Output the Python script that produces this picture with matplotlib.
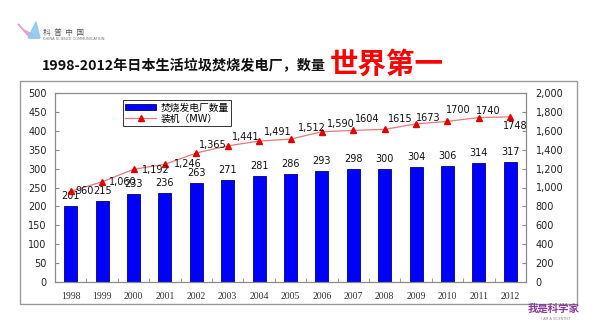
import matplotlib.pyplot as plt
from matplotlib.patches import Rectangle, Polygon
from matplotlib.lines import Line2D

plt.rcParams['font.family'] = ['DejaVu Sans', 'Noto Sans CJK SC']

years = ['1998', '1999', '2000', '2001', '2002', '2003', '2004', '2005',
         '2006', '2007', '2008', '2009', '2010', '2011', '2012']
plants = [201, 215, 233, 236, 263, 271, 281, 286, 293, 298, 300, 304, 306, 314, 317]
capacity_mw = [960, 1060, 1192, 1246, 1365, 1441, 1491, 1512, 1590, 1604,
               1615, 1673, 1700, 1740, 1748]
# later years were typed without a thousands separator
comma_until = 2006

bar_name = '焚烧发电厂数量'
line_name = '装机（MW）'
title_main = '1998-2012年日本生活垃圾焚烧发电厂，数量'
title_red = '世界第一'

W, H = 600, 334
fig = plt.figure(figsize=(6.0, 3.34), dpi=100)
fig.patch.set_facecolor('white')

def fx(px):
    return px / W

def fy(py):
    return 1 - py / H

# outer grey frame around the chart
fig.add_artist(Rectangle((fx(20), fy(304)), fx(557), 223 / H, transform=fig.transFigure,
                         fill=False, edgecolor='#9a9a9a', linewidth=1.0))

ax = fig.add_axes([fx(55), fy(282), 471 / W, 189 / H])
ax2 = ax.twinx()

x = list(range(len(years)))
bars = ax.bar(x, plants, width=0.42, color='#0000ff', edgecolor='#00007a',
              linewidth=0.6, label=bar_name, zorder=2)
ax.set_xlim(-0.5, len(years) - 0.5)
ax.set_ylim(0, 500)
ax.set_yticks(range(0, 501, 50))
ax.set_xticks(x)
ax.set_xticklabels(years, family='Liberation Serif', fontsize=7, color='#333333')
ax.set_xticks([i + 0.5 for i in x[:-1]], minor=True)
ax.tick_params(axis='x', which='major', length=0, pad=7)
ax.tick_params(axis='x', which='minor', length=3, direction='in', color='#888888')
ax.tick_params(axis='y', direction='in', length=3, color='#888888',
               labelsize=7, labelcolor='#222222', pad=6)

ax2.plot(x, capacity_mw, color='#e87878', linewidth=0.9, marker='^', markersize=4,
         markerfacecolor='#e00000', markeredgecolor='#e00000', label=line_name, zorder=3)
ax2.set_ylim(0, 2000)
ax2.set_yticks(range(0, 2001, 200))
ax2.set_yticklabels([f'{v:,}' for v in range(0, 2001, 200)])
ax2.tick_params(axis='y', direction='in', length=3, color='#888888',
                labelsize=7, labelcolor='#222222', pad=7)

for a in (ax, ax2):
    for s in a.spines.values():
        s.set_color('#8a8a8a')
        s.set_linewidth(0.8)

# value labels over the bars
for xi, v in zip(x, plants):
    ax.annotate(str(v), (xi, v), xytext=(0, 3.5), textcoords='offset points',
                ha='center', va='bottom', fontsize=7, color='#111111', zorder=5)

# value labels next to the capacity markers (offsets in pixels)
line_offsets = [(5, 0), (7, 0), (8, 1), (9, 0), (3, -8), (4, -9), (5, -9), (7, -11),
                (5, -8), (2, -11), (3, -10), (0, -6), (-2, -11), (-3, -7), (-7, 9)]
for xi, v, yr, (dx, dy) in zip(x, capacity_mw, years, line_offsets):
    txt = f'{v:,}' if int(yr) <= comma_until else str(v)
    ax2.annotate(txt, (xi, v), xytext=(dx * 0.72, -dy * 0.72), textcoords='offset points',
                 ha='left', va='center', fontsize=7, color='#111111', zorder=5)

handles = [bars, Line2D([], [], color='#e87878', linewidth=0.9, marker='^', markersize=4,
                        markerfacecolor='#e00000', markeredgecolor='#e00000')]
leg = ax2.legend(handles, [bar_name, line_name], loc='upper left',
                 bbox_to_anchor=(0.144, 0.963), borderaxespad=0, fontsize=7,
                 frameon=True, fancybox=False, edgecolor='#333333', framealpha=1,
                 handlelength=3.2, handletextpad=0.4, borderpad=0.25,
                 labelspacing=0.15, numpoints=1)
leg.get_frame().set_linewidth(0.7)

# title: black part, then the red emphasis right after it
t1 = fig.text(fx(42), fy(66), title_main, fontsize=10.2, fontweight='bold',
              color='#111111', ha='left', va='center',
              family=['Noto Sans CJK SC', 'DejaVu Sans'])
fig.canvas.draw()
bb = t1.get_window_extent()
fig.text((bb.x1 + 4) / W, fy(65), title_red, fontsize=20.5, fontweight='heavy',
         color='#ff0000', ha='left', va='center', family=['Noto Sans CJK SC'])

# small logos in the corners
fig.add_artist(Polygon([[fx(18), fy(24)], [fx(30), fy(38)], [fx(40), fy(38)], [fx(24), fy(30)]],
                       closed=True, transform=fig.transFigure, color='#e89ac8', alpha=0.9))
fig.add_artist(Polygon([[fx(28), fy(38)], [fx(36), fy(22)], [fx(40), fy(38)]],
                       closed=True, transform=fig.transFigure, color='#8fc9ee', alpha=0.9))
fig.text(fx(43), fy(33), '科  普  中  国', fontsize=5.5, color='#555555',
         ha='left', va='center', family=['Noto Sans CJK SC'])
fig.text(fx(43), fy(39.5), 'CHINA SCIENCE COMMUNICATION', fontsize=2.6, color='#777777',
         ha='left', va='center')

fig.text(fx(554), fy(309), '我是科学家', fontsize=7.5, fontweight='bold', color='#8a3a9e',
         ha='center', va='center', family=['Noto Sans CJK SC'])
fig.text(fx(556), fy(319), 'I AM A SCIENTIST', fontsize=2.4, color='#888888',
         ha='center', va='center')

fig.savefig('out.png', dpi=100, facecolor='white')
